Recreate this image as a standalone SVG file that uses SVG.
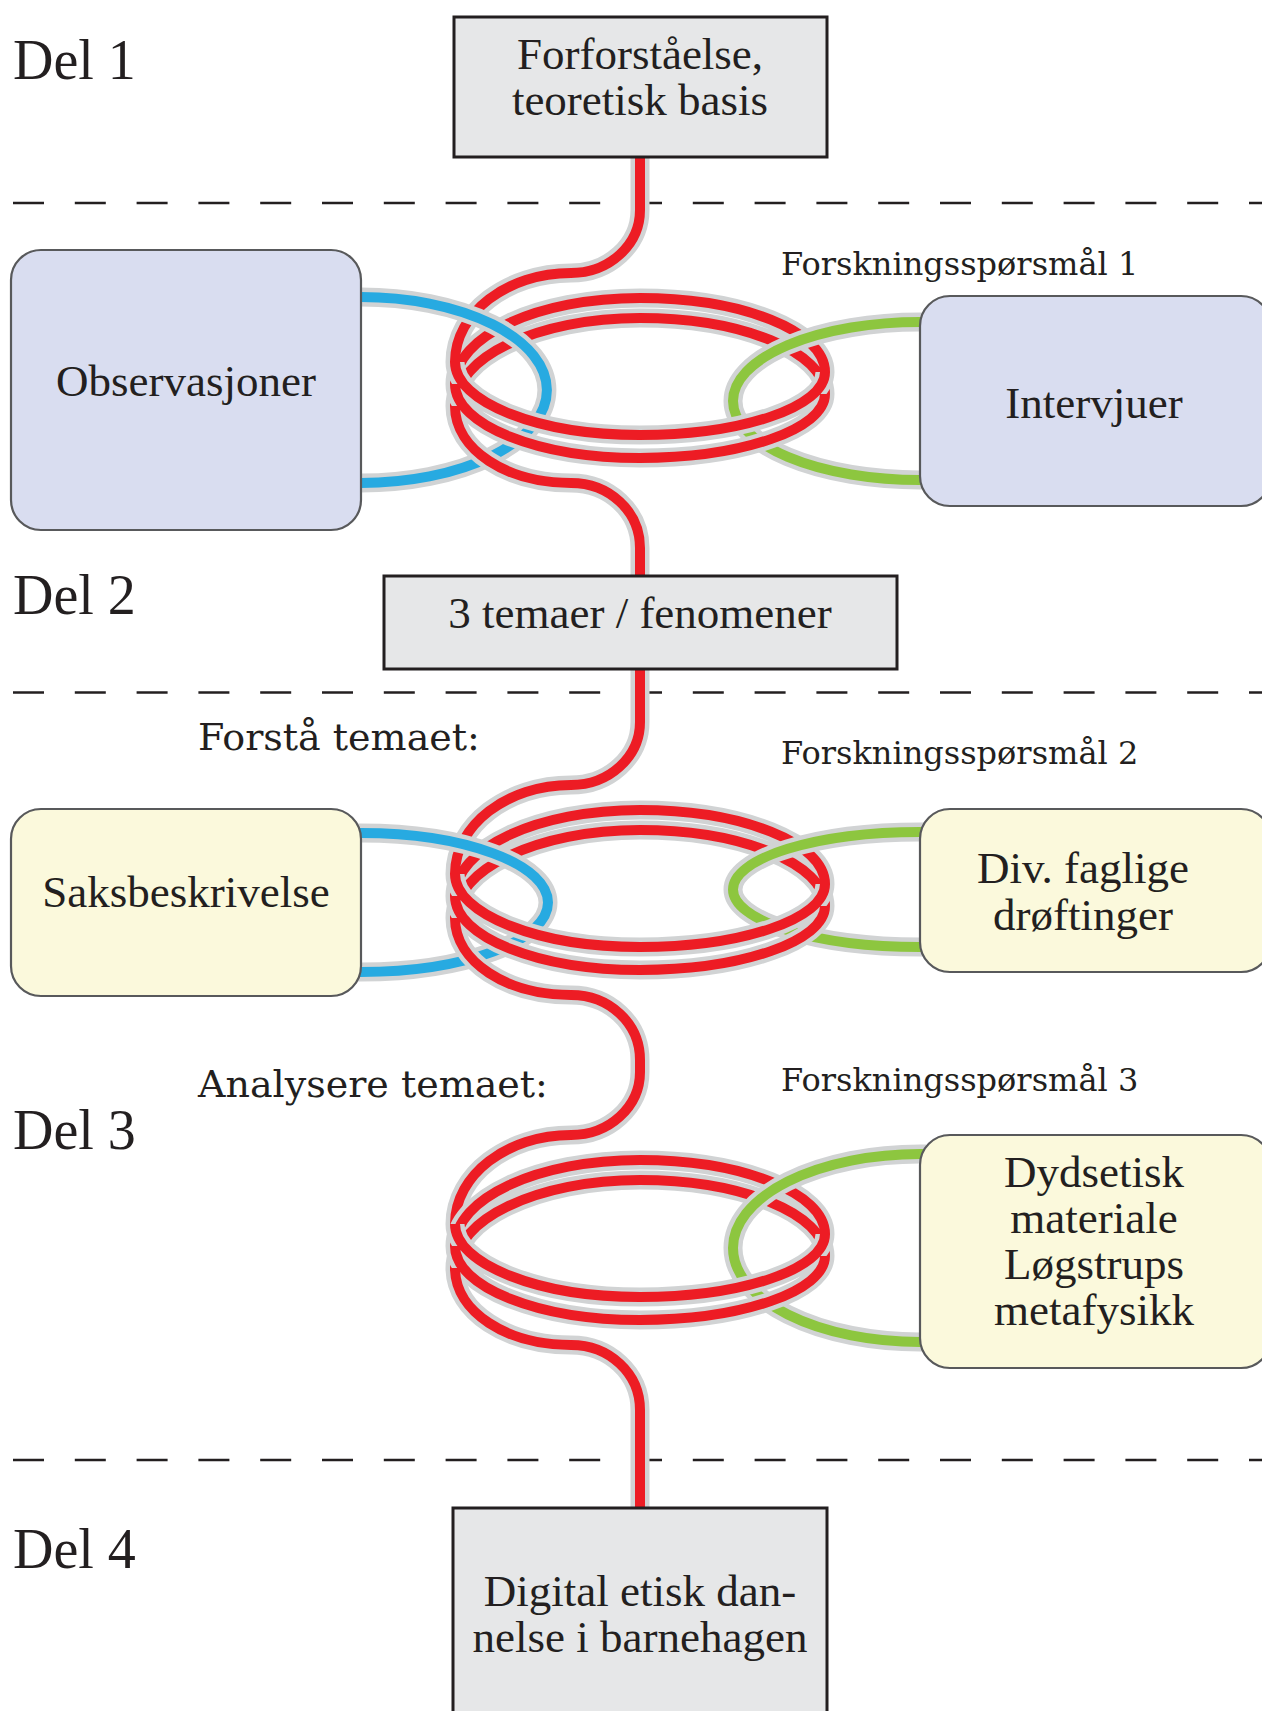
<svg xmlns="http://www.w3.org/2000/svg" xmlns:xlink="http://www.w3.org/1999/xlink" width="1262" height="1711" viewBox="0 0 1262 1711">
  <style>
    .sep { stroke:#231f20; stroke-width:2.5; stroke-dasharray:31 30.8; fill:none; }
    .casing { fill:none; stroke:#d1d3d4; stroke-width:19; }
    .red { fill:none; stroke:#ed1c24; stroke-width:10; }
    .blue { fill:none; stroke:#27aae1; stroke-width:10; }
    .green { fill:none; stroke:#8dc63f; stroke-width:10; }
    .box-grey { fill:#e6e7e8; stroke:#231f20; stroke-width:3; }
    .box-lav { fill:#d9ddf0; stroke:#58595b; stroke-width:2.2; }
    .box-yel { fill:#fbf9dc; stroke:#58595b; stroke-width:2.2; }
    .node-text { font-family:"Liberation Serif", "Times New Roman", serif; font-size:45px; fill:#231f20; text-anchor:middle; }
    .del { font-family:"Liberation Serif", "Times New Roman", serif; font-size:56px; fill:#231f20; }
    .q { font-family:"DejaVu Serif", Georgia, serif; font-size:32px; fill:#231f20; }
    .step { font-family:"DejaVu Serif", Georgia, serif; font-size:38px; fill:#231f20; }
  </style>
  <defs>
    <!-- one coil, drawn at the position of the first ring; the others are translated copies -->
    <path id="coil-back" d="M825,372 C825,331 742,298 640,298 C538,298 455,336 455,384 M825,394 C825,352 742,318 640,318 C538,318 455,357 455,406"/>
    <path id="coil-front" d="M455,362 C455,402 538,435 640,435 C742,435 825,407 825,372 M455,384 C455,425 538,458 640,458 C742,458 825,429 825,394"/>
    <path id="in1" d="M640,156 V210 C640,245 609,273 571,273 C507,273 455,313 455,362"/>
    <path id="out1" d="M455,406 C455,450 507,483 571,483 C609,483 640,511 640,548 V578"/>
    <path id="in2" d="M640,668 V722 C640,757 609,785 571,785 C507,785 455,825 455,874"/>
    <path id="out2" d="M455,918 C455,962 507,995 571,995 C609,995 640,1023 640,1060 V1072 C640,1107 609,1135 571,1135 C507,1135 455,1175 455,1224"/>
    <path id="out3" d="M455,1268 C455,1312 507,1345 571,1345 C609,1345 640,1373 640,1410 V1510"/>
    <path id="loop-obs" d="M355,297 H361 A186,93 0 0 1 361,483 H355"/>
    <path id="loop-int" d="M926,322 H920 A187,79 0 0 0 920,480 H926"/>
    <path id="loop-sak" d="M355,833 H361 A187,69.5 0 0 1 361,972 H355"/>
    <path id="loop-div" d="M926,832 H920 A187,57.5 0 0 0 920,947 H926"/>
    <path id="loop-dyd" d="M926,1154 H920 A187,94 0 0 0 920,1342 H926"/>
  </defs>

  <!-- section separators -->
  <g id="separators">
    <line class="sep" x1="13" y1="203" x2="1262" y2="203"/>
    <line class="sep" x1="13" y1="692.5" x2="1262" y2="692.5"/>
    <line class="sep" x1="13" y1="1460" x2="1262" y2="1460"/>
  </g>

  <g id="connectors">
    <!-- ring 1: back strands, loops, front strands -->
    <use href="#coil-back" class="casing"/>
    <use href="#in1" class="casing"/>
    <use href="#coil-back" class="red"/>
    <use href="#in1" class="red"/>
    <use href="#loop-obs" class="casing"/>
    <use href="#loop-obs" class="blue"/>
    <use href="#loop-int" class="casing"/>
    <use href="#loop-int" class="green"/>
    <use href="#coil-front" class="casing"/>
    <use href="#out1" class="casing"/>
    <use href="#coil-front" class="red"/>
    <use href="#out1" class="red"/>

    <!-- ring 2 -->
    <use href="#coil-back" class="casing" transform="translate(0,512)"/>
    <use href="#in2" class="casing"/>
    <use href="#coil-back" class="red" transform="translate(0,512)"/>
    <use href="#in2" class="red"/>
    <use href="#loop-sak" class="casing"/>
    <use href="#loop-sak" class="blue"/>
    <use href="#loop-div" class="casing"/>
    <use href="#loop-div" class="green"/>
    <use href="#coil-front" class="casing" transform="translate(0,512)"/>
    <use href="#out2" class="casing"/>
    <use href="#coil-front" class="red" transform="translate(0,512)"/>
    <use href="#out2" class="red"/>

    <!-- ring 3 -->
    <use href="#coil-back" class="casing" transform="translate(0,862)"/>
    <use href="#coil-back" class="red" transform="translate(0,862)"/>
    <use href="#loop-dyd" class="casing"/>
    <use href="#loop-dyd" class="green"/>
    <use href="#coil-front" class="casing" transform="translate(0,862)"/>
    <use href="#out3" class="casing"/>
    <use href="#coil-front" class="red" transform="translate(0,862)"/>
    <use href="#out3" class="red"/>
  </g>

  <g id="node-forforstaelse">
    <rect class="box-grey" x="454" y="17" width="373" height="140"/>
    <text class="node-text" x="640" y="69">Forforståelse,</text>
    <text class="node-text" x="640" y="115">teoretisk basis</text>
  </g>
  <g id="node-observasjoner">
    <rect class="box-lav" x="11" y="250" width="350" height="280" rx="30"/>
    <text class="node-text" x="186" y="396">Observasjoner</text>
  </g>
  <g id="node-intervjuer">
    <rect class="box-lav" x="920" y="296" width="351" height="210" rx="30"/>
    <text class="node-text" x="1094" y="418">Intervjuer</text>
  </g>
  <g id="node-temaer">
    <rect class="box-grey" x="384" y="576" width="513" height="93"/>
    <text class="node-text" x="640" y="628">3 temaer / fenomener</text>
  </g>
  <g id="node-saksbeskrivelse">
    <rect class="box-yel" x="11" y="809" width="350" height="187" rx="30"/>
    <text class="node-text" x="186" y="907">Saksbeskrivelse</text>
  </g>
  <g id="node-drofting">
    <rect class="box-yel" x="920" y="809" width="351" height="163" rx="30"/>
    <text class="node-text" x="1083" y="883">Div. faglige</text>
    <text class="node-text" x="1083" y="930">drøftinger</text>
  </g>
  <g id="node-dydsetisk">
    <rect class="box-yel" x="920" y="1135" width="351" height="233" rx="30"/>
    <text class="node-text" x="1094" y="1187">Dydsetisk</text>
    <text class="node-text" x="1094" y="1233">materiale</text>
    <text class="node-text" x="1094" y="1279">Løgstrups</text>
    <text class="node-text" x="1094" y="1325">metafysikk</text>
  </g>
  <g id="node-digital">
    <rect class="box-grey" x="453" y="1508" width="374" height="230"/>
    <text class="node-text" x="640" y="1606">Digital etisk dan-</text>
    <text class="node-text" x="640" y="1652">nelse i barnehagen</text>
  </g>

  <g id="labels">
    <text class="del" x="13" y="79">Del 1</text>
    <text class="del" x="13" y="614">Del 2</text>
    <text class="del" x="13" y="1149">Del 3</text>
    <text class="del" x="13" y="1568">Del 4</text>
    <text class="q" x="781" y="275">Forskningsspørsmål 1</text>
    <text class="q" x="781" y="764">Forskningsspørsmål 2</text>
    <text class="q" x="781" y="1091">Forskningsspørsmål 3</text>
    <text class="step" x="198" y="750">Forstå temaet:</text>
    <text class="step" x="198" y="1097">Analysere temaet:</text>
  </g>
</svg>
